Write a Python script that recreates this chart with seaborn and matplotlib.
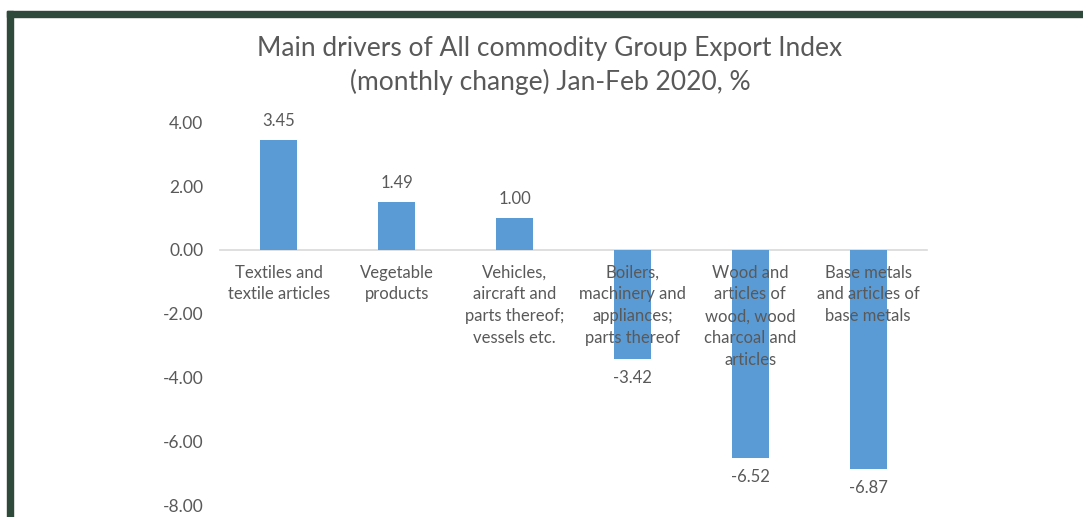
import matplotlib
matplotlib.use("Agg")
import matplotlib.pyplot as plt
import seaborn as sns
import pandas as pd
from matplotlib.patches import Rectangle

categories = [
    "Textiles and\ntextile articles",
    "Vegetable\nproducts",
    "Vehicles,\naircraft and\nparts thereof;\nvessels etc.",
    "Boilers,\nmachinery and\nappliances;\nparts thereof",
    "Wood and\narticles of\nwood, wood\ncharcoal and\narticles",
    "Base metals\nand articles of\nbase metals",
]
values = [3.45, 1.49, 1.00, -3.42, -6.52, -6.87]
yticks = [-8, -6, -4, -2, 0, 2, 4]
title_lines = ["Main drivers of All commodity Group Export Index",
               "(monthly change) Jan-Feb 2020, %"]

sns.set_theme(style="white")
plt.rcParams['font.family'] = ['Lato', 'DejaVu Sans']

TXT = "#595959"
BAR = "#5B9BD5"

fig = plt.figure(figsize=(10.83, 5.17), dpi=100)
fig.patch.set_facecolor("white")
ax = fig.add_axes([220/1083, 1 - 505/517, 707/1083, (505 - 122.4)/517])

df = pd.DataFrame({"cat": categories, "val": values})
sns.barplot(data=df, x="cat", y="val", color=BAR, width=0.314, ax=ax,
            saturation=1, edgecolor="none", errorbar=None)

ax.set_axisbelow(False)
ax.set_ylim(-8, 4)
ax.set_yticks(yticks)
ax.set_yticklabels([f"{v:.2f}" for v in yticks])
ax.set_xlabel("")
ax.set_ylabel("")
for s in ["top", "right", "left"]:
    ax.spines[s].set_visible(False)
ax.spines["bottom"].set_position(("data", 0))
ax.spines["bottom"].set_color("#D9D9D9")
ax.spines["bottom"].set_linewidth(1.2)
ax.spines["bottom"].set_zorder(0.5)
ax.tick_params(axis="x", length=0, pad=10.5, labelsize=12, labelcolor=TXT)
ax.tick_params(axis="y", length=0, pad=12, labelsize=12.5, labelcolor=TXT)
for lbl in ax.get_xticklabels():
    lbl.set_linespacing(1.45)
    lbl.set_verticalalignment("top")

for cont in ax.containers:
    ax.bar_label(cont, labels=[f"{v:.2f}" for v in values], padding=8,
                 fontsize=12, color=TXT)

fig.text(550/1083, 1 - 56/517, title_lines[0], ha="center", va="baseline",
         fontsize=19, color=TXT)
fig.text(550/1083, 1 - 90/517, title_lines[1], ha="center", va="baseline",
         fontsize=19, color=TXT)

border = "#2F4A3A"
fig.patches.append(Rectangle((7/1083, 1 - 17/517), 1, 6/517,
                             transform=fig.transFigure, color=border, zorder=10))
fig.patches.append(Rectangle((7/1083, 0), 6/1083, 1 - 11/517,
                             transform=fig.transFigure, color=border, zorder=10))

fig.savefig("out.png", dpi=100, facecolor="white")
